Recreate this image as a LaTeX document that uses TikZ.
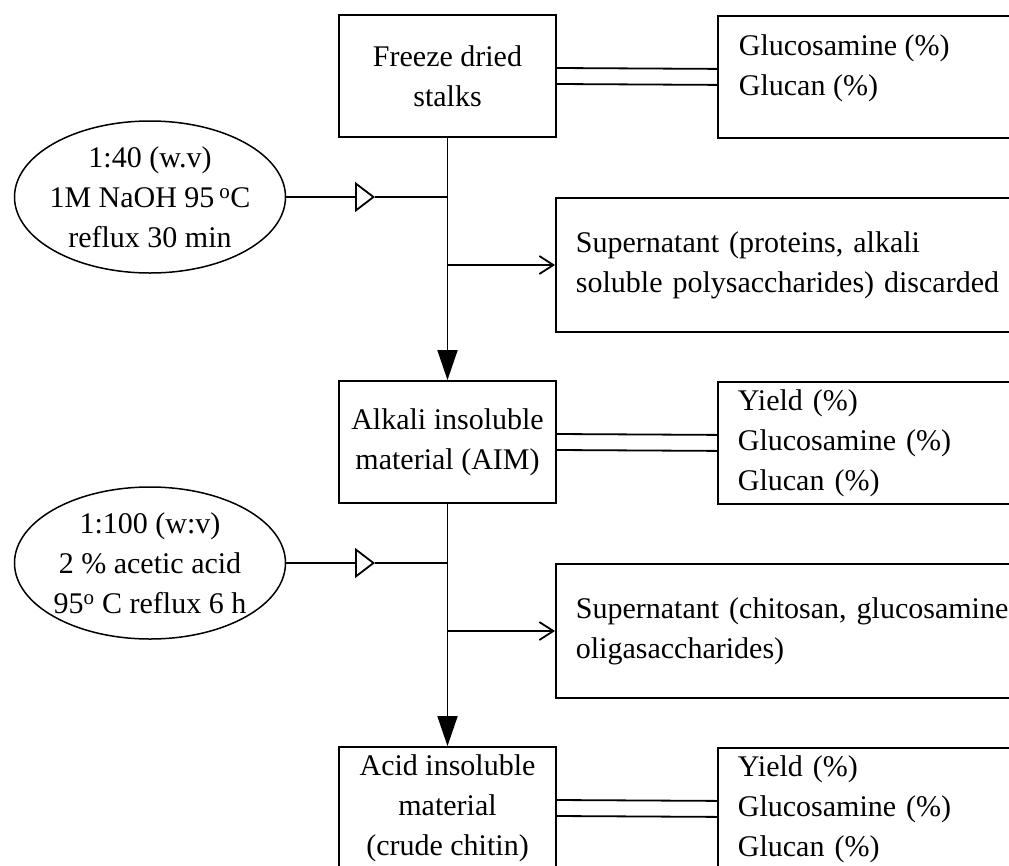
\documentclass[tikz,border=0pt]{standalone}
\usepackage{fontspec}
\setmainfont{Liberation Serif}
\usetikzlibrary{arrows.meta,shapes.geometric}
\begin{document}
\begin{tikzpicture}[x=1pt,y=-1pt,line width=1.8pt,
  txt/.style={font=\fontsize{30}{40}\selectfont},
  procbox/.style={draw,rectangle,minimum width=217pt,minimum height=122pt,inner sep=0pt,align=center,txt},
  databox/.style={draw,rectangle,anchor=north west,minimum width=330pt,minimum height=122pt,inner xsep=20pt,inner ysep=0pt,text width=290pt,align=left,txt},
  datatext/.style={anchor=west,inner sep=0pt,align=left,txt},
  supbox/.style={draw,rectangle,anchor=north west,minimum width=480pt,minimum height=134pt,inner xsep=20pt,inner ysep=0pt,text width=440pt,align=left,txt},
  condell/.style={draw,ellipse,line width=1.5pt,minimum width=271pt,minimum height=152pt,inner sep=-40pt,align=center,txt},
  mainarrow/.style={-{Triangle[length=30pt,width=20pt]}},
  inarrow/.style={-{Triangle[length=20pt,width=30pt,fill=white]}},
  outarrow/.style={-{Straight Barb[length=14pt,width=18pt]}},
  dbl/.style={line width=1.8pt}
]
\useasboundingbox (0,0) rectangle (1009,865);
\clip (0,0) rectangle (1009,865);

% main process boxes
\node[procbox] (b1) at (447.5,76) {Freeze dried\\stalks};
\node[procbox] (b2) at (447.5,442) {Alkali insoluble\\material (AIM)};
\node[procbox] (b3) at (447.5,808) {Acid insoluble\\material\\(crude chitin)};

% analysis boxes
\node[databox] (g1) at (717,15) {};
\node[datatext] (g1t) at (738,68) {Glucosamine (\%)\\Glucan (\%)};
\node[databox] (g2) at (717,381) {Yield (\%)\\Glucosamine (\%)\\Glucan (\%)};
\node[databox] (g3) at (717,747) {Yield (\%)\\Glucosamine (\%)\\Glucan (\%)};

% supernatant boxes
\node[supbox] (s1) at (555,197) {Supernatant (proteins, alkali\\soluble polysaccharides) discarded};
\node[supbox] (s2) at (555,563) {Supernatant (chitosan, glucosamine\\oligasaccharides)};

% condition ellipses
\node[condell] (e1) at (150,197) {1:40 (w.v)\\1M NaOH 95\,\textsuperscript{o}C\\reflux 30 min};
\node[condell] (e2) at (150,563) {1:100 (w:v)\\2 \% acetic acid\\95\textsuperscript{o} C reflux 6 h};

% double connectors
\foreach \a/\b in {b1/g1,b2/g2,b3/g3}{
  \draw[dbl] ([yshift=8pt]\a.east) -- ([yshift=8pt]\b.west);
  \draw[dbl] ([yshift=-8pt]\a.east) -- ([yshift=-8pt]\b.west);
}

% main flow
\draw[mainarrow] (b1.south) -- (b2.north);
\draw[mainarrow] (b2.south) -- (b3.north);

% reagent inputs
\coordinate (t1) at (375,197);
\coordinate (t2) at (375,563);
\draw[inarrow] (e1.east) -- (t1);
\draw (t1) -- (t1 -| b1.south);
\draw[inarrow] (e2.east) -- (t2);
\draw (t2) -- (t2 -| b2.south);

% supernatant outputs
\coordinate (r1) at (447.5,265);
\coordinate (r2) at (447.5,631);
\draw[outarrow] (r1) -- (r1 -| s1.west);
\draw[outarrow] (r2) -- (r2 -| s2.west);
\end{tikzpicture}
\end{document}
